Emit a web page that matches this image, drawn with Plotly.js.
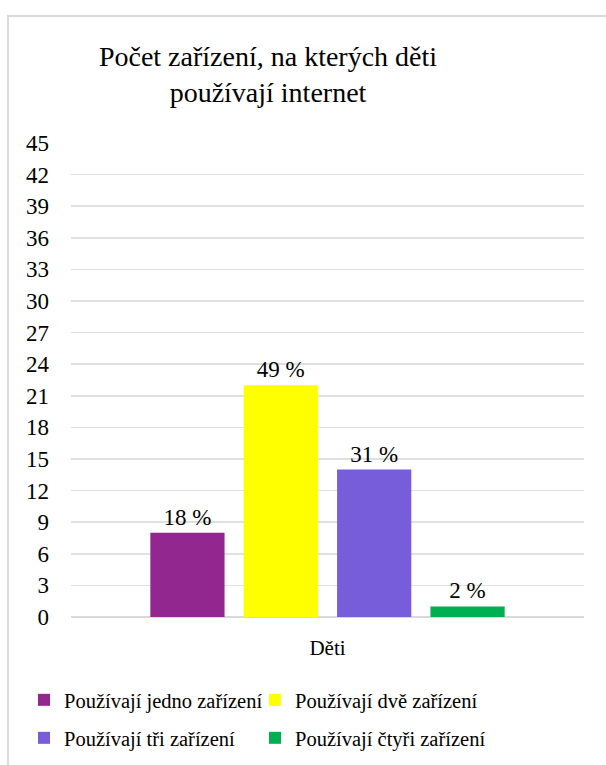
<!DOCTYPE html>
<html>
<head>
<meta charset="utf-8">
<script src="https://cdn.plot.ly/plotly-3.0.1.min.js"></script>
<style>
  html, body { margin: 0; padding: 0; background: #ffffff; }
  #chart { position: absolute; left: 0; top: 0; width: 606px; height: 765px; }
  #frame { position: absolute; left: 7px; top: 15px; width: 700px; height: 900px;
           border: 2px solid #d9d9d9; pointer-events: none; box-sizing: border-box; }
</style>
</head>
<body>
<div id="chart"></div>
<div id="frame"></div>
<script>
const category = ["Děti"];
const seriesNames = ["Používají jedno zařízení", "Používají dvě zařízení", "Používají tři zařízení", "Používají čtyři zařízení"];
const seriesValues = [8, 22, 14, 1];
const seriesLabels = ["18 %", "49 %", "31 %", "2 %"];
const seriesColors = ["#92278f", "#ffff00", "#775dd9", "#00b050"];
const yTicks = [0, 3, 6, 9, 12, 15, 18, 21, 24, 27, 30, 33, 36, 39, 42, 45];

const FONT = "Liberation Serif";
const legendIds = ["legend", "legend2", "legend3", "legend4"];

const traces = seriesNames.map((name, i) => ({
  type: "bar",
  name: name,
  x: category,
  y: [seriesValues[i]],
  text: [seriesLabels[i]],
  textposition: "outside",
  cliponaxis: false,
  textfont: { family: FONT, size: 23, color: "#000000" },
  marker: { color: seriesColors[i] },
  hoverinfo: "skip",
  legend: legendIds[i]
}));

function legendCfg(x, y) {
  return {
    orientation: "h",
    xref: "container",
    yref: "container",
    x: x,
    y: y,
    xanchor: "left",
    yanchor: "middle",
    font: { family: FONT, size: 20.5, color: "#000000" },
    bgcolor: "rgba(0,0,0,0)",
    traceorder: "normal"
  };
}

const layout = {
  width: 606,
  height: 765,
  font: { family: FONT, size: 21, color: "#000000" },
  margin: { l: 71, r: 22, t: 143, b: 148, pad: 0 },
  paper_bgcolor: "#ffffff",
  plot_bgcolor: "#ffffff",
  showlegend: true,
  title: {
    text: "Počet zařízení, na kterých děti<br>používají internet",
    font: { family: FONT, size: 28, color: "#000000" },
    xref: "container",
    x: 268 / 606,
    xanchor: "center",
    yref: "container",
    y: 1 - 66 / 765,
    yanchor: "middle"
  },
  barmode: "group",
  bargap: 0.272,
  bargroupgap: 0.205,
  xaxis: {
    type: "category",
    showgrid: false,
    showline: false,
    zeroline: false,
    ticks: "",
    ticklabelstandoff: 16,
    tickfont: { family: FONT, size: 21, color: "#000000" }
  },
  yaxis: {
    range: [0, 45],
    tickmode: "array",
    tickvals: yTicks,
    ticktext: yTicks.map(String),
    showgrid: true,
    gridcolor: "#e0e0e0",
    gridwidth: 1.5,
    zeroline: true,
    zerolinecolor: "#d9d9d9",
    zerolinewidth: 1.5,
    showline: false,
    ticks: "",
    ticklabelstandoff: 21,
    tickfont: { family: FONT, size: 23, color: "#000000" }
  },
  legend: legendCfg(24 / 606, 1 - 700 / 765),
  legend2: legendCfg(255 / 606, 1 - 700 / 765),
  legend3: legendCfg(24 / 606, 1 - 738 / 765),
  legend4: legendCfg(255 / 606, 1 - 738 / 765)
};

Plotly.newPlot("chart", traces, layout, { displayModeBar: false, staticPlot: true });
</script>
</body>
</html>
